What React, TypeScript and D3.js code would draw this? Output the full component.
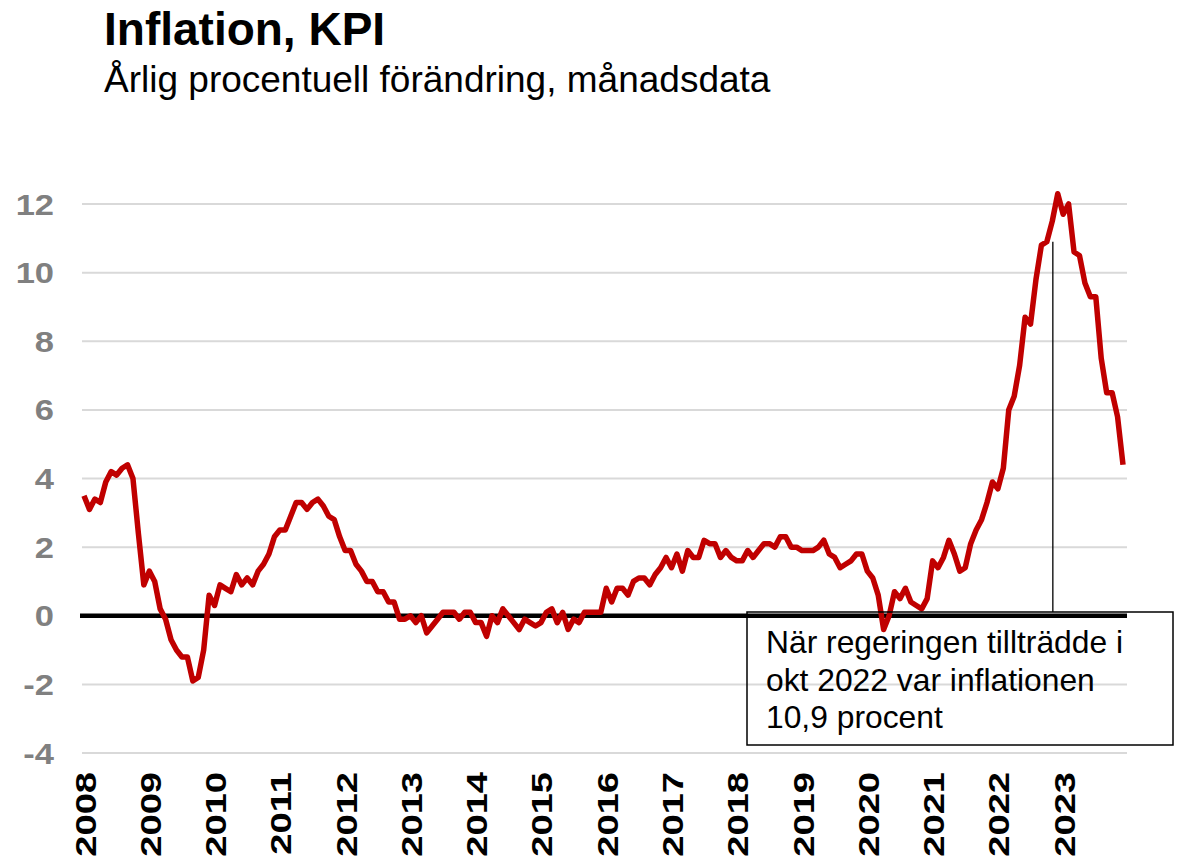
import React from 'react';
import * as d3 from 'd3';

// KPI, årlig procentuell förändring per månad (jan-dec)
const kpi2008 = [3.5, 3.1, 3.4, 3.3, 3.9, 4.2, 4.1, 4.3, 4.4, 4.0, 2.4, 0.9];
const kpi2009 = [1.3, 1.0, 0.2, -0.1, -0.7, -1.0, -1.2, -1.2, -1.9, -1.8, -1.0, 0.6];
const kpi2010 = [0.3, 0.9, 0.8, 0.7, 1.2, 0.9, 1.1, 0.9, 1.3, 1.5, 1.8, 2.3];
const kpi2011 = [2.5, 2.5, 2.9, 3.3, 3.3, 3.1, 3.3, 3.4, 3.2, 2.9, 2.8, 2.3];
const kpi2012 = [1.9, 1.9, 1.5, 1.3, 1.0, 1.0, 0.7, 0.7, 0.4, 0.4, -0.1, -0.1];
const kpi2013 = [0.0, -0.2, 0.0, -0.5, -0.3, -0.1, 0.1, 0.1, 0.1, -0.1, 0.1, 0.1];
const kpi2014 = [-0.2, -0.2, -0.6, 0.0, -0.2, 0.2, 0.0, -0.2, -0.4, -0.1, -0.2, -0.3];
const kpi2015 = [-0.2, 0.1, 0.2, -0.2, 0.1, -0.4, -0.1, -0.2, 0.1, 0.1, 0.1, 0.1];
const kpi2016 = [0.8, 0.4, 0.8, 0.8, 0.6, 1.0, 1.1, 1.1, 0.9, 1.2, 1.4, 1.7];
const kpi2017 = [1.4, 1.8, 1.3, 1.9, 1.7, 1.7, 2.2, 2.1, 2.1, 1.7, 1.9, 1.7];
const kpi2018 = [1.6, 1.6, 1.9, 1.7, 1.9, 2.1, 2.1, 2.0, 2.3, 2.3, 2.0, 2.0];
const kpi2019 = [1.9, 1.9, 1.9, 2.0, 2.2, 1.8, 1.7, 1.4, 1.5, 1.6, 1.8, 1.8];
const kpi2020 = [1.3, 1.1, 0.6, -0.4, 0.0, 0.7, 0.5, 0.8, 0.4, 0.3, 0.2, 0.5];
const kpi2021 = [1.6, 1.4, 1.7, 2.2, 1.8, 1.3, 1.4, 2.1, 2.5, 2.8, 3.3, 3.9];
const kpi2022 = [3.7, 4.3, 6.0, 6.4, 7.3, 8.7, 8.5, 9.8, 10.8, 10.9, 11.5, 12.3];
const kpi2023 = [11.7, 12.0, 10.6, 10.5, 9.7, 9.3, 9.3, 7.5, 6.5, 6.5, 5.8, 4.4];

const years = [2008, 2009, 2010, 2011, 2012, 2013, 2014, 2015, 2016, 2017, 2018, 2019, 2020, 2021, 2022, 2023];
const yTicks = [-4, -2, 0, 2, 4, 6, 8, 10, 12];

const title = 'Inflation, KPI';
const subtitle = 'Årlig procentuell förändring, månadsdata';
const noteLines = ['När regeringen tillträdde i', 'okt 2022 var inflationen', '10,9 procent'];
const noteMonth = { year: 2022, month: 10 };

const FONT = '"Liberation Sans", Arial, Helvetica, sans-serif';

const App = () => {
    const width = 1183;
    const height = 860;

    const values = [
        kpi2008, kpi2009, kpi2010, kpi2011, kpi2012, kpi2013, kpi2014, kpi2015,
        kpi2016, kpi2017, kpi2018, kpi2019, kpi2020, kpi2021, kpi2022, kpi2023,
    ].flat();

    const x = d3.scaleLinear().domain([0, values.length - 1]).range([84, 1123]);
    const y = d3.scaleLinear().domain([-4, 12]).range([753, 204]);

    const line = d3.line<number>()
        .x((d, i) => x(i))
        .y(d => y(d));

    const gridLeft = 82;
    const gridRight = 1127;

    const noteIdx = (noteMonth.year - years[0]) * 12 + noteMonth.month - 1;
    const noteX = x(noteIdx) + 6;
    const box = { x: 747, y: 612, w: 426, h: 133 };

    return (
        <svg width={width} height={height}
            style={{ position: 'absolute', left: 0, top: 0, background: '#fff' }}
            fontFamily={FONT}>
            <text x={104} y={45} fontSize={46} fontWeight="bold" fill="#000">{title}</text>
            <text x={104} y={92} fontSize={37} fill="#000">{subtitle}</text>

            {yTicks.filter(t => t !== 0).map(t => (
                <line key={'g' + t} x1={gridLeft} x2={gridRight} y1={y(t)} y2={y(t)}
                    stroke="#d9d9d9" strokeWidth={2} />
            ))}

            {yTicks.map(t => (
                <text key={'t' + t} transform={`translate(54,${y(t)}) scale(1.15,1)`}
                    textAnchor="end" dy="0.35em" fontSize={30} fontWeight="bold" fill="#808080">
                    {t}
                </text>
            ))}

            {years.map((yr, k) => (
                <text key={yr} transform={`translate(${x(k * 12) + 1},772) rotate(-90) scale(1.27,1)`}
                    textAnchor="end" dy="0.35em" fontSize={30} fontWeight="bold" fill="#000">
                    {yr}
                </text>
            ))}

            <line x1={80} x2={gridRight} y1={y(0)} y2={y(0)} stroke="#000" strokeWidth={4.5} />

            <path d={line(values) || ''} fill="none" stroke="#c00000" strokeWidth={5.5}
                strokeLinejoin="round" />

            <line x1={noteX} x2={noteX} y1={y(values[noteIdx])} y2={box.y}
                stroke="#000" strokeWidth={1.3} />
            <rect x={box.x} y={box.y} width={box.w} height={box.h}
                fill="none" stroke="#000" strokeWidth={1.5} />
            {noteLines.map((s, i) => (
                <text key={i} x={766} y={653 + i * 37.5} fontSize={31.8} fill="#000">{s}</text>
            ))}
        </svg>
    );
};

export default App;
